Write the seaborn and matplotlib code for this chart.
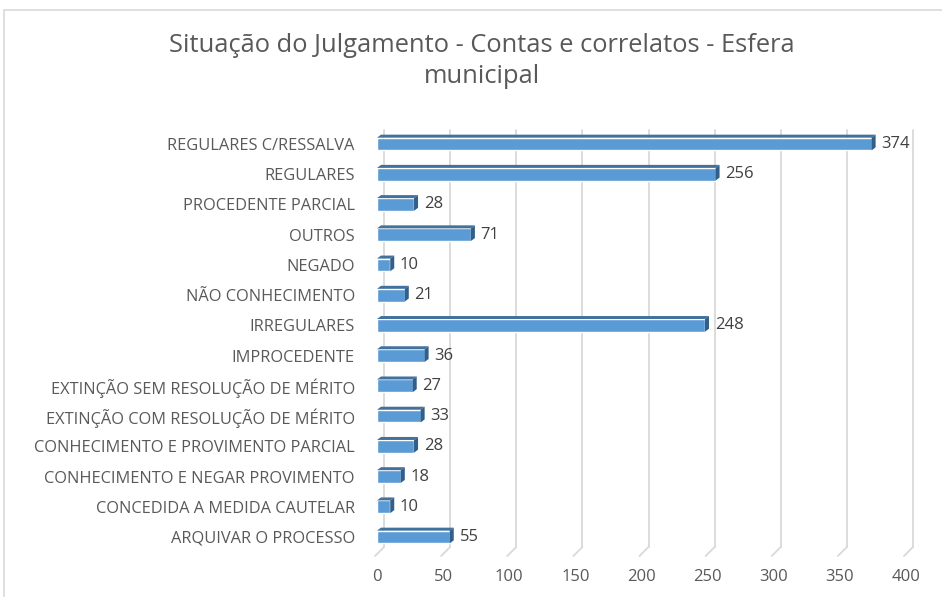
import numpy as np
import pandas as pd
import matplotlib
matplotlib.use("Agg")
import matplotlib.pyplot as plt
import matplotlib.transforms as mtransforms
from matplotlib.patches import Polygon, Rectangle
import seaborn as sns

# 数据
categorias = [
    "REGULARES C/RESSALVA",
    "REGULARES",
    "PROCEDENTE PARCIAL",
    "OUTROS",
    "NEGADO",
    "NÃO CONHECIMENTO",
    "IRREGULARES",
    "IMPROCEDENTE",
    "EXTINÇÃO SEM RESOLUÇÃO DE MÉRITO",
    "EXTINÇÃO COM RESOLUÇÃO DE MÉRITO",
    "CONHECIMENTO E PROVIMENTO PARCIAL",
    "CONHECIMENTO E NEGAR PROVIMENTO",
    "CONCEDIDA A MEDIDA CAUTELAR",
    "ARQUIVAR O PROCESSO",
]
valores = [374, 256, 28, 71, 10, 21, 248, 36, 27, 33, 28, 18, 10, 55]
x_ticks = [0, 50, 100, 150, 200, 250, 300, 350, 400]
titulo = "Situação do Julgamento - Contas e correlatos - Esfera\nmunicipal"

df = pd.DataFrame({"categoria": categorias, "valor": valores})

sns.set_theme(style="white")
plt.rcParams['font.family'] = ['Open Sans', 'DejaVu Sans']

COR_FRENTE = "#5B9BD5"
COR_TOPO = "#41719C"
COR_LADO = "#2F5F8A"
COR_TEXTO = "#595959"
COR_GRADE = "#D9D9D9"

fig = plt.figure(figsize=(9.42, 5.97), dpi=100)
fig.patch.set_facecolor("white")
ax = fig.add_axes([377 / 942, 1 - 547 / 597, (906 - 377) / 942, (547 - 130) / 597])

sns.barplot(data=df, x="valor", y="categoria", color=COR_FRENTE, width=0.42,
            saturation=1, ax=ax, zorder=3)

ax.set_xlim(0, 400)
ax.set_ylim(13 + 10 / 30.23, -14 / 30.23)
ax.set_xticks(x_ticks)
ax.set_xticklabels([str(t) for t in x_ticks], color=COR_TEXTO, fontsize=12)
ax.set_xlabel("")
ax.set_ylabel("")
ax.tick_params(axis="x", length=0, pad=16)
ax.tick_params(axis="y", length=0, pad=16, labelsize=11.8, labelcolor=COR_TEXTO)
for s in ax.spines.values():
    s.set_visible(False)

# 网格线（3D 效果：向右偏移，底部有斜线）
dx_px, dy_px = 7, 9
trans_x = ax.get_xaxis_transform()
for t in x_ticks:
    ax.plot([t, t], [0, 1], color=COR_GRADE, lw=1.3, zorder=1, clip_on=False,
            transform=mtransforms.offset_copy(trans_x, fig=fig, x=dx_px, y=0, units="dots"))
    # 底部斜线
    p0 = trans_x.transform((t, 0))
    seg = plt.Line2D([p0[0] + dx_px, p0[0] - 2], [p0[1], p0[1] - dy_px],
                     transform=None, color=COR_GRADE, lw=1.3, zorder=1)
    fig.lines.append(seg)

# 3D 柱体：顶面和侧面
fig.canvas.draw()
depth_x, depth_y = 4, 3
for patch in ax.patches:
    bb = patch.get_window_extent()
    x0, x1, y0, y1 = bb.x0, bb.x1, bb.y0, bb.y1
    topo = Polygon([(x0, y1), (x1, y1), (x1 + depth_x, y1 + depth_y), (x0 + depth_x, y1 + depth_y)],
                   closed=True, transform=None, facecolor=COR_TOPO, edgecolor="none", zorder=4)
    lado = Polygon([(x1, y0), (x1, y1), (x1 + depth_x, y1 + depth_y), (x1 + depth_x, y0 + depth_y)],
                   closed=True, transform=None, facecolor=COR_LADO, edgecolor="none", zorder=4)
    fig.patches.extend([topo, lado])

# 数据标签
for i, v in enumerate(valores):
    ax.annotate(str(v), xy=(v, i), xytext=(7, 0), textcoords="offset points",
                va="center", ha="left", fontsize=12, color="#404040", zorder=5)

fig.text(0.512, 1 - 61 / 597, titulo, ha="center", va="center", fontsize=18.4,
         color=COR_TEXTO, linespacing=1.3)

# 图表边框
fig.patches.append(Rectangle((4 / 942, -0.1), 1.2, 1 - 10 / 597 + 0.1, transform=fig.transFigure,
                             facecolor="none", edgecolor=COR_GRADE, lw=1.2, zorder=0))

fig.savefig("out.png", dpi=100, facecolor="white")
